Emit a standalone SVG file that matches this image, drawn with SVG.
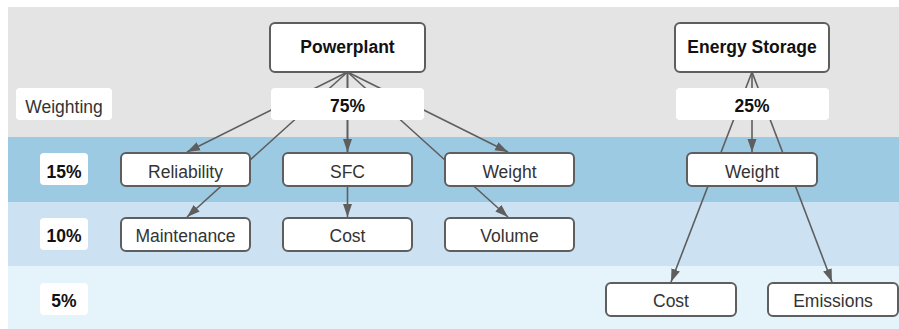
<svg xmlns="http://www.w3.org/2000/svg" width="899" height="329" viewBox="0 0 899 329">
  <style>
    .node rect { fill: #ffffff; stroke: #5e5e5e; stroke-width: 2; }
    .label rect { fill: #ffffff; stroke: none; }
    text { font-family: "Liberation Sans", Arial, sans-serif; font-size: 17.5px; text-anchor: middle; fill: #333333; }
    .b { font-weight: bold; fill: #111111; }
    .conn line { stroke: #5e5e5e; stroke-width: 1.6; fill: none; }
    .arr { marker-end: url(#ah); }
  </style>
  <defs>
    <marker id="ah" markerUnits="userSpaceOnUse" markerWidth="14" markerHeight="10" refX="13" refY="5" orient="auto">
      <path d="M0,0.5 L13,5 L0,9.5 z" fill="#5e5e5e"/>
    </marker>
  </defs>

  <rect width="899" height="329" fill="#ffffff"/>
  <g id="bands">
    <rect x="8" y="7" width="891" height="130" fill="#e4e4e4"/>
    <rect x="8" y="137" width="891" height="65" fill="#9dcae3"/>
    <rect x="8" y="202" width="891" height="64" fill="#cce2f2"/>
    <rect x="8" y="266" width="891" height="63" fill="#e5f3fb"/>
  </g>

  <g id="connectors" class="conn">
    <line class="arr" x1="347.5" y1="72" x2="187" y2="152"/>
    <line class="arr" x1="347.5" y1="72" x2="187" y2="217"/>
    <line class="arr" x1="347.5" y1="72" x2="347.5" y2="152"/>
    <line class="arr" x1="347.5" y1="72" x2="347.5" y2="217"/>
    <line class="arr" x1="347.5" y1="72" x2="508" y2="152"/>
    <line class="arr" x1="347.5" y1="72" x2="508" y2="217"/>
    <line class="arr" x1="752" y1="72" x2="752" y2="152"/>
    <line class="arr" x1="752" y1="72" x2="671" y2="282"/>
    <line class="arr" x1="752" y1="72" x2="832" y2="282"/>
  </g>

  <g id="label-weighting" class="label">
    <rect x="16" y="88" width="96" height="32" rx="4"/>
    <text x="64" y="113">Weighting</text>
  </g>
  <g id="label-75" class="label">
    <rect x="271" y="88" width="153" height="32" rx="4"/>
    <text class="b" x="347.5" y="112">75%</text>
  </g>
  <g id="label-25" class="label">
    <rect x="676" y="88" width="153" height="32" rx="4"/>
    <text class="b" x="752" y="112">25%</text>
  </g>
  <g id="label-15" class="label">
    <rect x="40" y="153" width="48" height="32" rx="4"/>
    <text class="b" x="64" y="178">15%</text>
  </g>
  <g id="label-10" class="label">
    <rect x="40" y="218" width="48" height="32" rx="4"/>
    <text class="b" x="64" y="242">10%</text>
  </g>
  <g id="label-5" class="label">
    <rect x="40" y="283" width="48" height="32" rx="4"/>
    <text class="b" x="64" y="307">5%</text>
  </g>

  <g id="powerplant" class="node">
    <rect x="270" y="23" width="155" height="49" rx="5"/>
    <text class="b" x="347.5" y="53">Powerplant</text>
  </g>
  <g id="energy-storage" class="node">
    <rect x="675" y="23" width="154" height="49" rx="5"/>
    <text class="b" x="752" y="53">Energy Storage</text>
  </g>

  <g id="reliability" class="node">
    <rect x="121" y="153" width="129" height="33" rx="5"/>
    <text x="185.5" y="178">Reliability</text>
  </g>
  <g id="sfc" class="node">
    <rect x="283" y="153" width="129" height="33" rx="5"/>
    <text x="347.5" y="178">SFC</text>
  </g>
  <g id="pp-weight" class="node">
    <rect x="445" y="153" width="129" height="33" rx="5"/>
    <text x="509.5" y="178">Weight</text>
  </g>
  <g id="es-weight" class="node">
    <rect x="687" y="153" width="130" height="33" rx="5"/>
    <text x="752" y="178">Weight</text>
  </g>

  <g id="maintenance" class="node">
    <rect x="121" y="218" width="129" height="33" rx="5"/>
    <text x="185.5" y="242">Maintenance</text>
  </g>
  <g id="pp-cost" class="node">
    <rect x="283" y="218" width="129" height="33" rx="5"/>
    <text x="347.5" y="242">Cost</text>
  </g>
  <g id="volume" class="node">
    <rect x="445" y="218" width="129" height="33" rx="5"/>
    <text x="509.5" y="242">Volume</text>
  </g>

  <g id="es-cost" class="node">
    <rect x="606" y="283" width="130" height="33" rx="5"/>
    <text x="671" y="307">Cost</text>
  </g>
  <g id="emissions" class="node">
    <rect x="768" y="283" width="130" height="33" rx="5"/>
    <text x="833" y="307">Emissions</text>
  </g>
</svg>
